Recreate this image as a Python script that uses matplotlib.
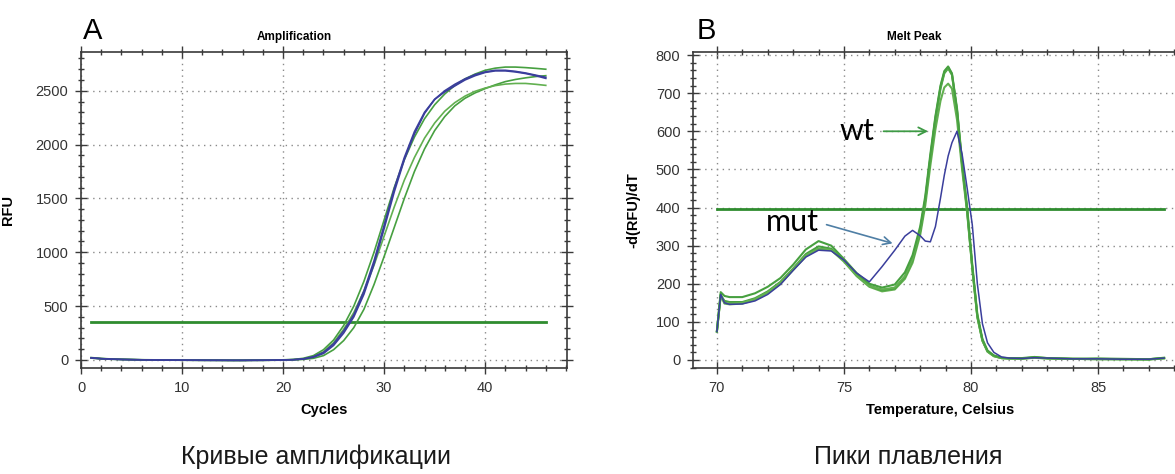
import matplotlib
matplotlib.use("Agg")
import matplotlib.pyplot as plt
from matplotlib.ticker import MultipleLocator

plt.rcParams['font.family'] = ['Liberation Sans', 'DejaVu Sans']

# ---------------- Amplification data (RFU per cycle) ----------------
cycles = list(range(1, 47))

amp_blue1 = [20, 12, 8, 5, 3, 1, 0, -1, -2, -2, -3, -3, -4, -4, -4, -4, -4, -3, -2, -1, 2,
             10, 30, 70, 150, 270, 420, 640, 920, 1250, 1590, 1880, 2120, 2300, 2420, 2490,
             2545, 2600, 2640, 2670, 2685, 2685, 2675, 2660, 2640, 2615]
amp_blue2 = [18, 11, 7, 4, 2, 1, 0, -1, -1, -2, -2, -3, -3, -3, -4, -4, -3, -3, -2, 0, 2,
             8, 25, 60, 135, 250, 400, 610, 890, 1220, 1560, 1860, 2100, 2290, 2420, 2500,
             2560, 2610, 2650, 2675, 2690, 2690, 2680, 2665, 2645, 2625]
amp_green1 = [22, 14, 9, 6, 4, 2, 1, 0, -1, -1, -2, -2, -2, -3, -3, -3, -2, -2, -1, 1, 4,
              15, 40, 95, 185, 320, 500, 730, 1000, 1300, 1600, 1860, 2070, 2240, 2370, 2470,
              2550, 2610, 2655, 2690, 2710, 2720, 2720, 2715, 2708, 2700]
amp_green2 = [19, 12, 8, 5, 3, 1, 0, -1, -2, -2, -3, -3, -3, -4, -4, -4, -3, -3, -2, 0, 3,
              10, 30, 75, 160, 285, 440, 640, 880, 1150, 1420, 1670, 1880, 2060, 2200, 2310,
              2390, 2450, 2495, 2525, 2548, 2562, 2568, 2568, 2560, 2550]
amp_green3 = [17, 10, 6, 4, 2, 0, -1, -2, -2, -3, -3, -4, -4, -4, -5, -5, -4, -4, -3, -2, 0,
              5, 15, 40, 95, 180, 300, 470, 700, 960, 1230, 1500, 1750, 1960, 2130, 2260,
              2360, 2430, 2480, 2520, 2555, 2585, 2605, 2620, 2632, 2640]
amp_threshold = 350
amp_threshold_span = [1, 46]

# ---------------- Melt peak data (-dRFU/dT per temperature) ----------------
temps = [70.0, 70.15, 70.3, 70.5, 71.0, 71.5, 72.0, 72.5, 73.0, 73.5, 74.0, 74.5, 75.0,
         75.5, 76.0, 76.5, 77.0, 77.4, 77.7, 78.0, 78.2, 78.4, 78.6, 78.8, 78.95, 79.1,
         79.25, 79.45, 79.65, 79.85, 80.05, 80.25, 80.45, 80.65, 80.9, 81.2, 81.5, 82.0,
         82.5, 83.0, 84.0, 85.0, 86.0, 87.0, 87.6]

melt_wt1 = [75, 178, 168, 165, 165, 175, 192, 215, 250, 290, 312, 300, 265, 228, 200, 190,
            198, 230, 275, 350, 430, 540, 640, 720, 758, 770, 752, 660, 520, 400, 250, 120,
            55, 25, 12, 6, 5, 5, 8, 5, 3, 4, 3, 2, 6]
melt_wt2 = [75, 170, 155, 152, 152, 162, 180, 205, 240, 278, 298, 292, 262, 225, 195, 183,
            188, 218, 262, 338, 418, 528, 630, 712, 752, 765, 748, 655, 515, 392, 245, 115,
            52, 23, 11, 5, 4, 4, 7, 5, 3, 3, 2, 2, 5]
melt_wt3 = [75, 168, 148, 146, 148, 158, 176, 200, 236, 272, 292, 288, 258, 220, 192, 180,
            185, 213, 255, 328, 405, 510, 605, 680, 715, 725, 712, 630, 500, 385, 240, 112,
            50, 22, 10, 5, 4, 3, 6, 4, 3, 2, 2, 1, 4]
melt_wt4 = [75, 172, 150, 148, 150, 160, 178, 203, 238, 275, 292, 289, 260, 222, 194, 185,
            190, 220, 265, 342, 422, 532, 635, 716, 755, 768, 750, 652, 512, 390, 242, 113,
            51, 22, 10, 5, 4, 4, 6, 4, 3, 2, 2, 2, 5]
melt_mut = [75, 172, 150, 146, 147, 155, 172, 198, 235, 270, 288, 286, 262, 228, 205, 245,
            288, 325, 340, 326, 312, 310, 350, 425, 485, 535, 570, 600, 540, 450, 355, 200,
            95, 45, 20, 8, 5, 4, 6, 5, 3, 3, 2, 2, 5]
melt_threshold = 395
melt_threshold_span = [70.0, 87.6]

# annotation anchors (temperature, value)
wt_text_pos = (75.5, 600)
wt_arrow = ((76.45, 600), (78.42, 600))
mut_text_pos = (72.97, 363)
mut_arrow = ((74.21, 357), (77.02, 304))

BLUE = '#3a3e9c'
GREEN_D = '#2f8c2f'
GREEN_M = '#47a040'
GREEN_L = '#62b050'
SPINE = '#3a3a3a'
GRID = '#8a8a8a'

W, H = 1175, 474
fig = plt.figure(figsize=(W / 100, H / 100), dpi=100)
fig.patch.set_facecolor('white')


def px_axes(l, r, t, b):
    return fig.add_axes([l / W, (H - b) / H, (r - l) / W, (b - t) / H])


def style_axes(ax, xmajor, xminor, ymajor, yminor):
    ax.xaxis.set_major_locator(MultipleLocator(xmajor))
    ax.xaxis.set_minor_locator(MultipleLocator(xminor))
    ax.yaxis.set_major_locator(MultipleLocator(ymajor))
    ax.yaxis.set_minor_locator(MultipleLocator(yminor))
    ax.tick_params(which='both', direction='inout', top=True, right=True,
                   color=SPINE, width=1.0)
    ax.tick_params(which='major', length=8, labelsize=10.5, labelcolor='#333333', pad=5)
    ax.tick_params(which='minor', length=5)
    for s in ax.spines.values():
        s.set_color(SPINE)
        s.set_linewidth(1.2)
    ax.grid(True, which='major', linestyle=(0, (1, 3.2)), color=GRID, linewidth=1.0)
    ax.set_axisbelow(True)


# ---------------- Panel A ----------------
axA = px_axes(81, 567, 52, 368)
axA.set_xlim(0, 48.1)
axA.set_ylim(-75, 2860)
style_axes(axA, 10, 2, 500, 100)
axA.plot(amp_threshold_span, [amp_threshold, amp_threshold], color=GREEN_D, lw=2.0)
axA.plot(cycles, amp_green3, color=GREEN_M, lw=1.2)
axA.plot(cycles, amp_green2, color=GREEN_L, lw=1.2)
axA.plot(cycles, amp_green1, color=GREEN_M, lw=1.2)
axA.plot(cycles, amp_blue2, color=BLUE, lw=1.2)
axA.plot(cycles, amp_blue1, color=BLUE, lw=1.2)
axA.set_xlabel('Cycles', fontsize=10.5, fontweight='bold', labelpad=6)
axA.set_ylabel('RFU', fontsize=10.5, fontweight='bold')
axA.yaxis.set_label_coords(-0.135, 0.5)
fig.text(294 / W, 1 - 37 / H, 'Amplification', ha='center', va='center',
         fontsize=8.5, fontweight='bold')
fig.text(83 / W, 1 - 39 / H, 'A', ha='left', va='baseline', fontsize=21)
fig.text(316 / W, 1 - 464 / H, 'Кривые амплификации', ha='center', va='baseline',
         fontsize=18, color='#1a1a1a')

# ---------------- Panel B ----------------
axB = px_axes(693, 1187, 52, 368)
axB.set_xlim(69.06, 88.5)
axB.set_ylim(-21, 808)
style_axes(axB, 5, 1, 100, 20)
axB.plot(melt_threshold_span, [melt_threshold, melt_threshold], color=GREEN_D, lw=2.0)
axB.plot(temps, melt_wt3, color=GREEN_L, lw=1.5)
axB.plot(temps, melt_wt2, color=GREEN_M, lw=1.5)
axB.plot(temps, melt_wt4, color=GREEN_L, lw=1.5)
axB.plot(temps, melt_wt1, color=GREEN_M, lw=1.5)
axB.plot(temps, melt_mut, color=BLUE, lw=1.1)
axB.set_xlabel('Temperature, Celsius', fontsize=10.5, fontweight='bold', labelpad=6)
axB.set_ylabel('-d(RFU)/dT', fontsize=10.5, fontweight='bold')
axB.yaxis.set_label_coords(-0.107, 0.5)
fig.text(914 / W, 1 - 37 / H, 'Melt Peak', ha='center', va='center',
         fontsize=8.5, fontweight='bold')
fig.text(697 / W, 1 - 39 / H, 'B', ha='left', va='baseline', fontsize=21)
fig.text(908 / W, 1 - 464 / H, 'Пики плавления', ha='center', va='baseline',
         fontsize=18, color='#1a1a1a')

axB.text(*wt_text_pos, 'wt', ha='center', va='center', fontsize=22, family='Lato')
axB.text(*mut_text_pos, 'mut', ha='center', va='center', fontsize=22, family='Lato')
axB.annotate('', xy=wt_arrow[1], xytext=wt_arrow[0],
             arrowprops=dict(arrowstyle='->', color='#3e9a45', lw=1.3,
                             mutation_scale=14))
axB.annotate('', xy=mut_arrow[1], xytext=mut_arrow[0],
             arrowprops=dict(arrowstyle='->', color='#4f7fa5', lw=1.2,
                             mutation_scale=14))

fig.savefig('out.png', dpi=100)
